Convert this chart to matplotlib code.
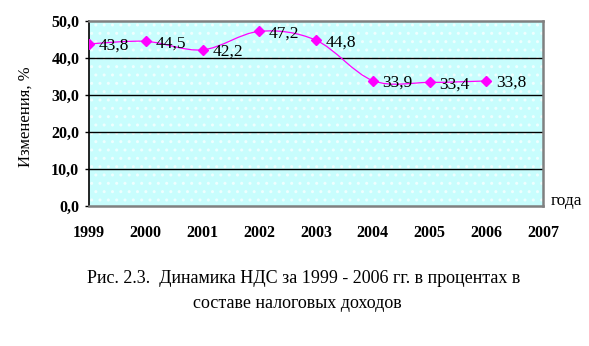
import matplotlib.pyplot as plt
from matplotlib.path import Path
from matplotlib.patches import PathPatch, Rectangle
from matplotlib.ticker import FuncFormatter

plt.rcParams["font.family"] = ["Liberation Serif", "DejaVu Serif"]

# Данные
years = [1999, 2000, 2001, 2002, 2003, 2004, 2005, 2006]
values = [43.8, 44.5, 42.2, 47.2, 44.8, 33.9, 33.4, 33.8]
x_ticks = [1999, 2000, 2001, 2002, 2003, 2004, 2005, 2006, 2007]
y_ticks = [0, 10, 20, 30, 40, 50]

MAGENTA = "#ff00ff"


def smooth_path(xs, ys):
    """Сглаженная линия как в Excel (кривые Безье)."""
    n = len(xs)
    verts = [(xs[0], ys[0])]
    codes = [Path.MOVETO]
    for i in range(n - 1):
        x0, y0 = (xs[i - 1], ys[i - 1]) if i > 0 else (xs[i], ys[i])
        x1, y1 = xs[i], ys[i]
        x2, y2 = xs[i + 1], ys[i + 1]
        x3, y3 = (xs[i + 2], ys[i + 2]) if i + 2 < n else (x2, y2)
        c1 = (x1 + (x2 - x0) / 6, y1 + (y2 - y0) / 6)
        c2 = (x2 - (x3 - x1) / 6, y2 - (y3 - y1) / 6)
        verts += [c1, c2, (x2, y2)]
        codes += [Path.CURVE4] * 3
    return Path(verts, codes)


fig = plt.figure(figsize=(5.89, 3.46), dpi=100)
ax = fig.add_axes([0.1511, 0.4046, 0.7709, 0.5347])

ax.set_xlim(x_ticks[0], x_ticks[-1])
ax.set_ylim(y_ticks[0], y_ticks[-1])

# Фон с точечной штриховкой
ax.patch.set_facecolor("#c8fdfd")
bg = Rectangle((0, 0), 1, 1, transform=ax.transAxes, facecolor="none",
               edgecolor="#eefefe", hatch="..", linewidth=0, zorder=0)
ax.add_patch(bg)

for y in y_ticks[1:-1]:
    ax.axhline(y, color="black", linewidth=1.0, zorder=1)

ax.add_patch(PathPatch(smooth_path(years, values), facecolor="none",
                       edgecolor=MAGENTA, linewidth=0.9, zorder=3))
ax.plot(years, values, linestyle="none", marker="D", markersize=5.5,
        color=MAGENTA, zorder=4)

for x, v in zip(years, values):
    ax.annotate(f"{v:.1f}".replace(".", ","), (x, v), xytext=(7, -1.5),
                textcoords="offset points", ha="left", va="center",
                fontsize=12.5, zorder=5)

ax.set_xticks(x_ticks)
ax.set_yticks(y_ticks)
ax.yaxis.set_major_formatter(FuncFormatter(lambda v, p: f"{v:.1f}".replace(".", ",")))
ax.tick_params(axis="x", length=0, pad=14, labelsize=11.5)
ax.tick_params(axis="y", length=3, width=1, pad=4, labelsize=11.5, direction="out")
for lab in ax.get_xticklabels() + ax.get_yticklabels():
    lab.set_fontweight("bold")

for side in ["top", "right", "bottom"]:
    ax.spines[side].set_color("#808080")
    ax.spines[side].set_linewidth(1.8)
ax.spines["left"].set_color("black")
ax.spines["left"].set_linewidth(1.2)

fig.text(0.043, 0.662, "Изменения, %", rotation=90, ha="center", va="center",
         fontsize=12)
fig.text(0.935, 0.419, "года", ha="left", va="center", fontsize=12.5)

fig.text(0.516, 0.195, "Рис. 2.3.  Динамика НДС за 1999 - 2006 гг. в процентах в",
         ha="center", va="center", fontsize=13)
fig.text(0.505, 0.122, "составе налоговых доходов", ha="center", va="center",
         fontsize=13)

fig.savefig("out.png", dpi=100)
